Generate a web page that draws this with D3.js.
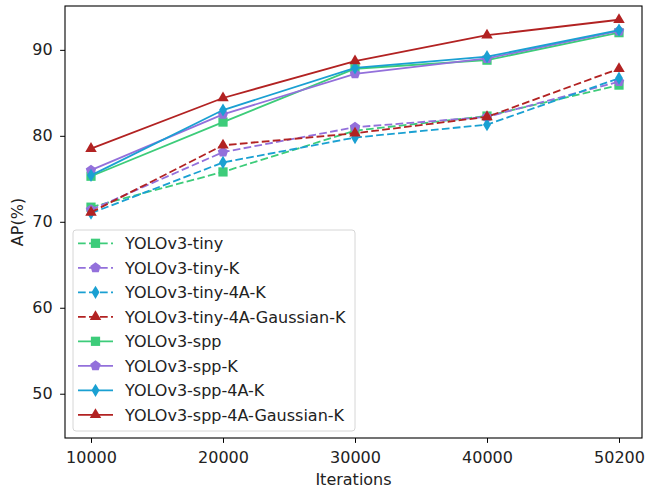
<!DOCTYPE html>
<html><head><meta charset="utf-8">
<script src="https://cdn.jsdelivr.net/npm/d3@7"></script>
<style>body{margin:0;background:#fff}svg{display:block}text{font-family:"DejaVu Sans",sans-serif;fill:#222}</style>
</head><body>
<svg id="c" width="646" height="489"></svg>
<script>
const iterations = ["10000","20000","30000","40000","50200"];
const yTicks = [50,60,70,80,90];
const seriesNames = ["YOLOv3-tiny","YOLOv3-tiny-K","YOLOv3-tiny-4A-K","YOLOv3-tiny-4A-Gaussian-K","YOLOv3-spp","YOLOv3-spp-K","YOLOv3-spp-4A-K","YOLOv3-spp-4A-Gaussian-K"];
const tiny        = [71.7, 75.8, 80.6, 82.3, 85.9];
const tinyK       = [71.4, 78.1, 81.0, 82.2, 86.3];
const tiny4AK     = [71.0, 76.9, 79.8, 81.3, 86.7];
const tiny4AGK    = [71.1, 78.9, 80.3, 82.2, 87.8];
const spp         = [75.3, 81.6, 87.8, 88.8, 92.0];
const sppK        = [76.0, 82.5, 87.2, 89.0, 92.2];
const spp4AK      = [75.4, 83.0, 87.9, 89.2, 92.3];
const spp4AGK     = [78.5, 84.4, 88.7, 91.7, 93.5];
const seriesValues = [tiny, tinyK, tiny4AK, tiny4AGK, spp, sppK, spp4AK, spp4AGK];

const colors = ["#3dcc7a","#9370db","#1aa0d2","#b22222"];
const markers = ["square","pentagon","diamond","triangle"];

const svg = d3.select("#c");
const L=65, R=642, T=6, B=438;
const FS = "16px";
const x = d3.scalePoint().domain(iterations).range([91,619]);
const y = d3.scaleLinear().domain([44.85,95.1]).range([B,T]);

function markerPath(type, s){
  if(type==="square"){ const h=s*0.42; return `M${-h},${-h}H${h}V${h}H${-h}Z`; }
  if(type==="pentagon"){ const r=s*0.5; let p=""; for(let i=0;i<5;i++){const a=-Math.PI/2+i*2*Math.PI/5; p+=(i?"L":"M")+(r*Math.cos(a)).toFixed(2)+","+(r*Math.sin(a)).toFixed(2);} return p+"Z"; }
  if(type==="diamond"){ const w=s*0.36, h=s*0.6; return `M0,${-h}L${w},0L0,${h}L${-w},0Z`; }
  if(type==="triangle"){ const r=s*0.6; return `M0,${-r}L${r*0.87},${r*0.5}L${-r*0.87},${r*0.5}Z`; }
}

const g = svg.append("g");
const line = d3.line().x((d,i)=>x(iterations[i])).y(d=>y(d));
seriesValues.forEach((vals,k)=>{
  const c = colors[k%4], m = markers[k%4], dashed = k<4;
  const sg = g.append("g");
  sg.append("path").datum(vals).attr("d",line).attr("fill","none").attr("stroke",c)
    .attr("stroke-width",1.8).attr("stroke-dasharray",dashed?"7.7,3.3":null);
  sg.selectAll("path.m").data(vals).enter().append("path").attr("class","m")
    .attr("transform",(d,i)=>`translate(${x(iterations[i])},${y(d)})`)
    .attr("d",markerPath(m,11)).attr("fill",c);
});

svg.append("rect").attr("x",L).attr("y",T).attr("width",R-L).attr("height",B-T)
  .attr("fill","none").attr("stroke","#000").attr("stroke-width",1.1);

const xAxis = svg.append("g").attr("transform",`translate(0,${B})`)
  .call(d3.axisBottom(x).tickSize(4.9).tickPadding(8.5));
const yAxis = svg.append("g").attr("transform",`translate(${L},0)`)
  .call(d3.axisLeft(y).tickValues(yTicks).tickSize(4.9).tickPadding(7.5));
[xAxis,yAxis].forEach(a=>{ a.select(".domain").remove(); a.selectAll("line").attr("stroke","#000").attr("stroke-width",1); a.selectAll("text").attr("font-size",FS).attr("font-family","DejaVu Sans").attr("fill","#222"); });

svg.append("text").attr("x",(L+R)/2).attr("y",485).attr("text-anchor","middle").attr("font-size",FS).text("Iterations");
svg.append("text").attr("transform",`translate(23,${(T+B)/2}) rotate(-90)`).attr("text-anchor","middle").attr("font-size",FS).text("AP(%)");

const lg = svg.append("g");
lg.append("rect").attr("x",73).attr("y",230).attr("width",282).attr("height",201).attr("rx",3)
  .attr("fill","#fff").attr("fill-opacity",0.8).attr("stroke","#d6d6d6");
seriesNames.forEach((n,k)=>{
  const cy = 243.3 + k*24.5, c = colors[k%4];
  lg.append("line").attr("x1",78).attr("x2",113).attr("y1",cy).attr("y2",cy).attr("stroke",c)
    .attr("stroke-width",1.8).attr("stroke-dasharray",k<4?"7.7,3.3":null);
  lg.append("path").attr("transform",`translate(95.5,${cy})`).attr("d",markerPath(markers[k%4],11)).attr("fill",c);
  lg.append("text").attr("x",125).attr("y",cy).attr("dy","0.36em").attr("font-size",FS).text(n);
});
</script>
</body></html>
